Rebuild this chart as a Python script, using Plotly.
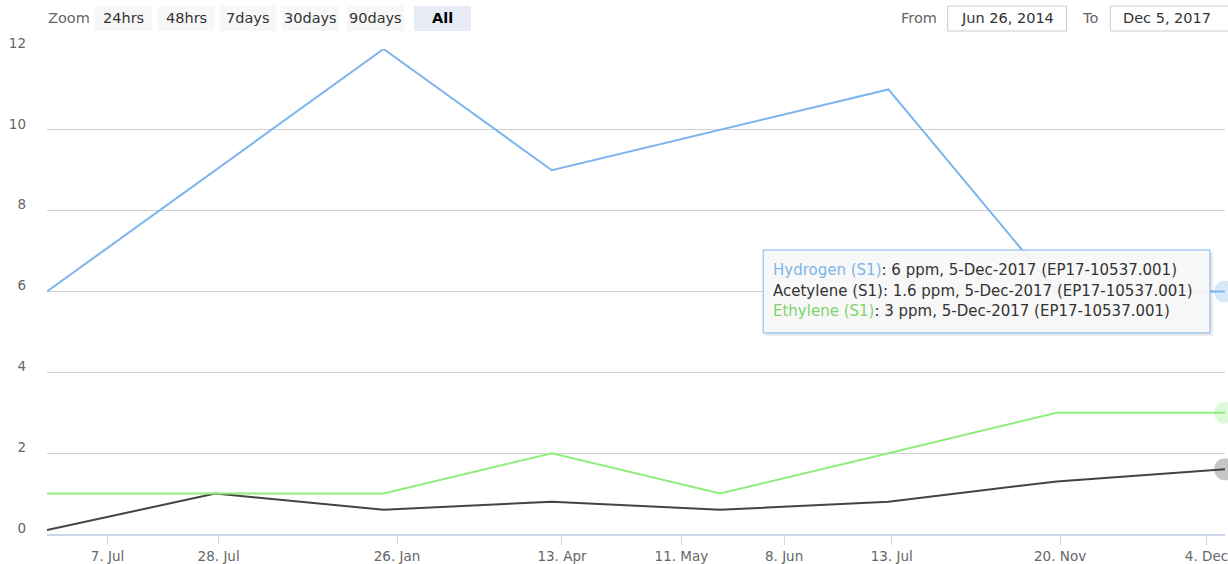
import plotly.graph_objects as go

# ordinal axis: samples are equally spaced, ticks sit between them
sample_idx = [0, 1, 2, 3, 4, 5, 6, 7]
hydrogen = [6, 9, 12, 9, 10, 11, 6, 6]
acetylene = [0.1, 1, 0.6, 0.8, 0.6, 0.8, 1.3, 1.6]
ethylene = [1, 1, 1, 2, 1, 2, 3, 3]

tick_labels = ['7. Jul', '28. Jul', '26. Jan', '13. Apr', '11. May', '8. Jun', '13. Jul', '20. Nov', '4. Dec']
tick_pos = [0.36, 1.02, 2.08, 3.06, 3.77, 4.38, 5.02, 6.02, 6.89]

zoom_buttons = ['24hrs', '48hrs', '7days', '30days', '90days', 'All']
date_from = 'Jun 26, 2014'
date_to = 'Dec 5, 2017'

tooltip_lines = [
    ('Hydrogen (S1)', ': 6 ppm, 5-Dec-2017 (EP17-10537.001)', '#7cb5ec'),
    ('Acetylene (S1)', ': 1.6 ppm, 5-Dec-2017 (EP17-10537.001)', '#333333'),
    ('Ethylene (S1)', ': 3 ppm, 5-Dec-2017 (EP17-10537.001)', '#7fd36c'),
]

W, H = 1228, 564
L, R, T, B = 47, 0, 49, 30
FONT = 'DejaVu Sans'


def px(x):
    return (x - L) / (W - L - R)


def py(y):
    return (H - B - y) / (H - T - B)


fig = go.Figure()

series = [
    ('Hydrogen (S1)', hydrogen, '#7cb5ec'),
    ('Acetylene (S1)', acetylene, '#434348'),
    ('Ethylene (S1)', ethylene, '#90ed7d'),
]
for name, vals, col in series:
    fig.add_trace(go.Scatter(
        x=sample_idx, y=vals, mode='lines', name=name,
        line=dict(color=col, width=2), hoverinfo='skip'
    ))

# hover halos on the last point
for name, vals, col in series:
    fig.add_trace(go.Scatter(
        x=[sample_idx[-1]], y=[vals[-1]], mode='markers',
        marker=dict(size=22, color=col, opacity=0.3, line=dict(width=0)),
        cliponaxis=False, hoverinfo='skip', showlegend=False
    ))

shapes = []
annotations = []

# range selector look-alike
annotations.append(dict(
    x=px(46), y=py(18), xref='paper', yref='paper', text='Zoom',
    showarrow=False, xanchor='left', yanchor='middle',
    font=dict(family=FONT, size=14.5, color='#666666')
))
btn_x = [95, 158, 220, 283, 348, 415]
btn_w = 57
for i, lab in enumerate(zoom_buttons):
    sel = lab == 'All'
    x0 = btn_x[i]
    shapes.append(dict(
        type='rect', xref='paper', yref='paper',
        x0=px(x0), x1=px(x0 + btn_w), y0=py(31), y1=py(6),
        fillcolor='#e6ebf5' if sel else '#f7f7f7', line=dict(width=0), layer='below'
    ))
    annotations.append(dict(
        x=px(x0 + btn_w / 2), y=py(18), xref='paper', yref='paper',
        text='<b>%s</b>' % lab if sel else lab, showarrow=False,
        xanchor='center', yanchor='middle',
        font=dict(family=FONT, size=14.5, color='#000000' if sel else '#333333')
    ))

# From / To inputs
annotations.append(dict(
    x=px(941), y=py(18), xref='paper', yref='paper', text='From',
    showarrow=False, xanchor='right', yanchor='middle',
    font=dict(family=FONT, size=14.5, color='#666666')
))
annotations.append(dict(
    x=px(1103), y=py(18), xref='paper', yref='paper', text='To',
    showarrow=False, xanchor='right', yanchor='middle',
    font=dict(family=FONT, size=14.5, color='#666666')
))
for (x0, x1, txt) in [(950, 1069, date_from), (1113, 1240, date_to)]:
    shapes.append(dict(
        type='rect', xref='paper', yref='paper',
        x0=px(x0), x1=px(x1), y0=py(31), y1=py(6),
        fillcolor='white', line=dict(color='#cccccc', width=1)
    ))
    annotations.append(dict(
        x=px(x0 + 11), y=py(18), xref='paper', yref='paper', text=txt,
        showarrow=False, xanchor='left', yanchor='middle',
        font=dict(family=FONT, size=14.5, color='#333333')
    ))

# tooltip box with shadow
shapes.append(dict(
    type='rect', xref='paper', yref='paper',
    x0=px(767), x1=px(1216), y0=py(336), y1=py(253),
    fillcolor='rgba(0,0,0,0.08)', line=dict(width=0)
))
shapes.append(dict(
    type='rect', xref='paper', yref='paper',
    x0=px(765), x1=px(1213), y0=py(333), y1=py(250),
    fillcolor='rgba(249,249,249,0.92)', line=dict(color='#7cb5ec', width=1)
))
for i, (nm, rest, col) in enumerate(tooltip_lines):
    annotations.append(dict(
        x=px(773), y=py(270 + i * 20.5), xref='paper', yref='paper',
        text='<span style="color:%s">%s</span>%s' % (col, nm, rest),
        showarrow=False, xanchor='left', yanchor='middle',
        font=dict(family=FONT, size=15, color='#333333')
    ))

fig.update_layout(
    width=W, height=H,
    margin=dict(l=L, r=R, t=T, b=B),
    plot_bgcolor='white', paper_bgcolor='white',
    showlegend=False,
    shapes=shapes, annotations=annotations,
    xaxis=dict(
        range=[0, 7], tickvals=tick_pos, ticktext=tick_labels,
        showgrid=False, zeroline=False,
        showline=True, linecolor='#ccd6eb', linewidth=2,
        ticks='outside', ticklen=9, tickcolor='#ccd6eb', tickwidth=1,
        ticklabeloverflow='allow',
        tickfont=dict(family=FONT, size=13.5, color='#666666')
    ),
    yaxis=dict(
        range=[0, 12], tickvals=[0, 2, 4, 6, 8, 10, 12],
        showgrid=True, gridcolor='#cfcfcf', gridwidth=1, zeroline=False,
        ticks='', ticklabelstandoff=20, ticklabelshift=-6,
        tickfont=dict(family=FONT, size=13.5, color='#666666')
    ),
)

fig.write_html(
    "out.html", config={'displayModeBar': False},
    post_script="document.body.style.margin='0px';"
                "document.body.style.overflow='hidden';"
                "document.documentElement.style.overflow='hidden';"
)
